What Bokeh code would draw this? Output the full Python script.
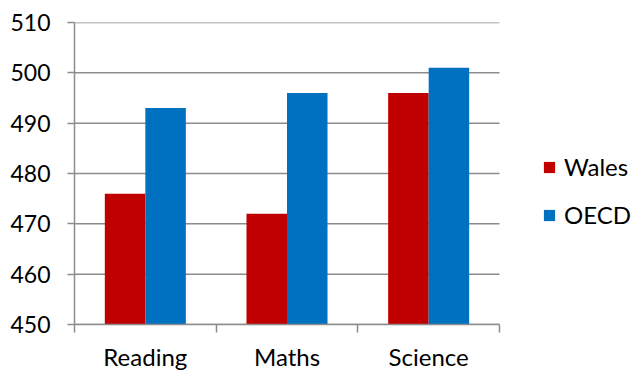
from bokeh.plotting import figure
from bokeh.models import Range1d, FixedTicker, ColumnDataSource, Legend, LegendItem
from bokeh.transform import dodge
from bokeh.embed import file_html
from bokeh.resources import INLINE

categories = ["Reading", "Maths", "Science"]
wales = [476, 472, 496]
oecd = [493, 496, 501]
y_ticks = [450, 460, 470, 480, 490, 500, 510]

FONT = "Lato"
GRAY = "#8c8c8c"

n = len(categories)
xc = [i + 0.5 for i in range(n)]
src = ColumnDataSource(dict(x=xc, cat=categories, wales=wales, oecd=oecd))

# frame spans the whole width right of the y axis; the chart uses the first 425 px
W, H = 632, 373
left, top, bottom = 74, 22, 47
plot_px = 425
x_end = n * (W - left) / plot_px

p = figure(width=W, height=H, output_backend="svg", toolbar_location=None,
           x_range=Range1d(0, x_end), y_range=Range1d(450, 510),
           min_border_left=left, min_border_right=0, min_border_top=top,
           min_border_bottom=bottom)
p.outline_line_color = None
p.background_fill_color = "white"
p.border_fill_color = "white"

# horizontal gridlines limited to the category area
p.segment(x0=[0] * len(y_ticks), x1=[n] * len(y_ticks), y0=y_ticks, y1=y_ticks,
          line_color=GRAY, line_width=1.5)

bw = 0.286
r1 = p.vbar(x=dodge("x", -bw / 2), top="wales", bottom=450, width=bw, source=src,
            fill_color="#C00000", line_color=None)
r2 = p.vbar(x=dodge("x", bw / 2), top="oecd", bottom=450, width=bw, source=src,
            fill_color="#0070C0", line_color=None)

# x axis
p.xaxis.bounds = (0, n)
p.xaxis.ticker = FixedTicker(ticks=xc, minor_ticks=list(range(n + 1)))
p.xaxis.major_label_overrides = {x: c for x, c in zip(xc, categories)}
p.xaxis.major_tick_out = 0
p.xaxis.major_tick_in = 0
p.xaxis.minor_tick_out = 8
p.xaxis.minor_tick_in = 0
p.xaxis.minor_tick_line_color = GRAY
p.xaxis.minor_tick_line_width = 1.5
p.xaxis.axis_line_color = GRAY
p.xaxis.axis_line_width = 1.5
p.xaxis.major_label_text_font = FONT
p.xaxis.major_label_text_font_size = "24px"
p.xaxis.major_label_text_color = "#000000"
p.xaxis.major_label_standoff = 9

# y axis
p.yaxis.ticker = FixedTicker(ticks=y_ticks)
p.yaxis.minor_tick_line_color = None
p.yaxis.major_tick_out = 7
p.yaxis.major_tick_in = 0
p.yaxis.major_tick_line_color = GRAY
p.yaxis.major_tick_line_width = 1.5
p.yaxis.axis_line_color = GRAY
p.yaxis.axis_line_width = 1.5
p.yaxis.major_label_text_font = FONT
p.yaxis.major_label_text_font_size = "23px"
p.yaxis.major_label_text_color = "#000000"
p.yaxis.major_label_standoff = 17

p.xgrid.grid_line_color = None
p.ygrid.grid_line_color = None

legend = Legend(items=[LegendItem(label="Wales", renderers=[r1]),
                       LegendItem(label="OECD", renderers=[r2])],
                location=(468, 95), orientation="vertical")
legend.border_line_color = None
legend.background_fill_alpha = 0
legend.padding = 0
legend.margin = 0
legend.glyph_width = 14
legend.glyph_height = 14
legend.label_height = 29
legend.spacing = 19
legend.label_standoff = 8
legend.label_text_font = FONT
legend.label_text_font_size = "24px"
legend.label_text_color = "#000000"
p.add_layout(legend, "center")

open("out.html", "w").write(file_html(p, INLINE))
